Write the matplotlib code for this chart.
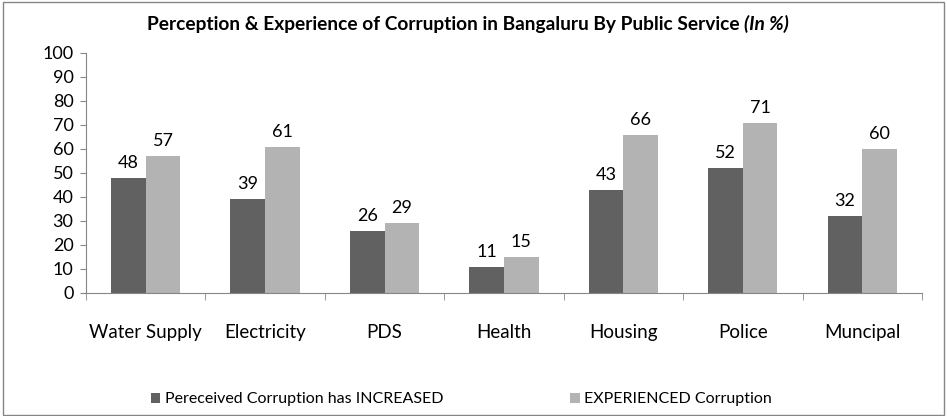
import numpy as np
import matplotlib.pyplot as plt
from matplotlib.patches import Rectangle

# Data
services = ['Water Supply', 'Electricity', 'PDS', 'Health', 'Housing', 'Police', 'Muncipal']
perceived = [48, 39, 26, 11, 43, 52, 32]
experienced = [57, 61, 29, 15, 66, 71, 60]

plt.rcParams['font.family'] = ['Lato', 'DejaVu Sans']

fig = plt.figure(figsize=(9.47, 4.16), dpi=100)
ax = fig.add_axes([0.0908, 0.2957, 0.8828, 0.577])

x = np.arange(len(services))
w = 0.29
dark, light = '#616161', '#b3b3b3'
b1 = ax.bar(x - w / 2, perceived, w, color=dark, label='Pereceived Corruption has INCREASED')
b2 = ax.bar(x + w / 2, experienced, w, color=light, label='EXPERIENCED Corruption')

for bars, vals in ((b1, perceived), (b2, experienced)):
    for r, v in zip(bars, vals):
        ax.annotate(str(v), (r.get_x() + r.get_width() / 2, v), xytext=(0, 5),
                    textcoords='offset points', ha='center', va='bottom', fontsize=13)

ax.set_xlim(-0.5, len(services) - 0.5)
ax.set_ylim(0, 100)
ax.set_yticks(range(0, 101, 10))
ax.tick_params(axis='y', labelsize=13, length=4, color='#868686', pad=5)
ax.set_xticks(x)
ax.set_xticklabels(services, fontsize=13.5)
ax.tick_params(axis='x', length=0, pad=22)
ax.set_xticks(np.arange(-0.5, len(services)), minor=True)
ax.tick_params(axis='x', which='minor', length=5, color='#868686')

for s in ('top', 'right'):
    ax.spines[s].set_visible(False)
for s in ('left', 'bottom'):
    ax.spines[s].set_color('#868686')

fig.text(0.786, 0.942, 'Perception & Experience of Corruption in Bangaluru By Public Service ',
         ha='right', va='center', fontsize=13.8, fontweight='bold')
fig.text(0.786, 0.942, '(In %)', ha='left', va='center', fontsize=13.8,
         fontweight='bold', style='italic')

fig.legend(loc='center', bbox_to_anchor=(0.4873, 0.04), ncol=2, frameon=False,
           fontsize=11.5, handlelength=0.6, handleheight=0.6, handletextpad=0.3,
           columnspacing=7.9)

fig.patches.append(Rectangle((0.003, 0.003), 0.994, 0.992, transform=fig.transFigure,
                             fill=False, edgecolor='#868686', linewidth=1))

fig.savefig('out.png', dpi=100)
